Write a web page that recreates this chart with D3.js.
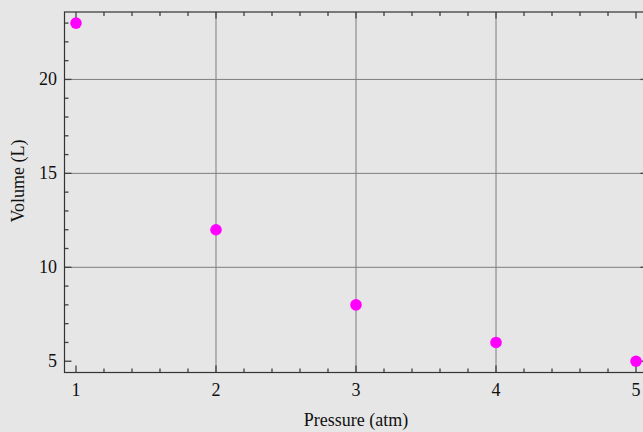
<!DOCTYPE html>
<html><head><meta charset="utf-8">
<script src="https://cdn.jsdelivr.net/npm/d3@7"></script>
<style>html,body{margin:0;padding:0;background:#e6e6e6;overflow:hidden}</style>
</head><body>
<script>
const pressure = [1, 2, 3, 4, 5];
const volume = [23, 12, 8, 6, 5];
const xTicks = [1, 2, 3, 4, 5];
const yTicks = [5, 10, 15, 20];
const xGrid = [2, 3, 4];
const yGrid = [10, 15, 20];
const xLabel = "Pressure (atm)";
const yLabel = "Volume (L)";

const W = 643, H = 432;
const L = 64.5, R = 647.5, T = 12, B = 372.5;
const svg = d3.select("body").append("svg").attr("width", W).attr("height", H);
svg.append("rect").attr("width", W).attr("height", H).attr("fill", "#e6e6e6");

const x = d3.scaleLinear().domain([0.918, 5.082]).range([L, R]);
const y = d3.scaleLinear().domain([4.4, 23.59]).range([B, T]);

const xMinor = d3.range(1, 5.0001, 0.2).map(v => +v.toFixed(1)).filter(v => !xTicks.includes(v));
const yMinor = d3.range(5, 23.5, 1).filter(v => !yTicks.includes(v));

// gridlines
svg.selectAll(".vg").data(xGrid).enter().append("line")
  .attr("x1", d => x(d)).attr("x2", d => x(d)).attr("y1", T).attr("y2", B)
  .attr("stroke", "#a3a3a3").attr("stroke-width", 1.6);
svg.selectAll(".hg").data(yGrid).enter().append("line")
  .attr("x1", L).attr("x2", R).attr("y1", d => y(d)).attr("y2", d => y(d))
  .attr("stroke", "#7f7f7f").attr("stroke-width", 1);

const tc = "#404040";
function ticks(sel, data, len, orient) {
  data.forEach(d => {
    if (orient === "bottom") sel.append("line").attr("x1", x(d)).attr("x2", x(d)).attr("y1", B).attr("y2", B - len);
    if (orient === "top") sel.append("line").attr("x1", x(d)).attr("x2", x(d)).attr("y1", T).attr("y2", T + len);
    if (orient === "left") sel.append("line").attr("y1", y(d)).attr("y2", y(d)).attr("x1", L).attr("x2", L + len);
    if (orient === "right") sel.append("line").attr("y1", y(d)).attr("y2", y(d)).attr("x1", R).attr("x2", R - len);
  });
}
const tg = svg.append("g").attr("stroke", tc).attr("stroke-width", 1.3);
ticks(tg, xTicks, 7, "bottom"); ticks(tg, xMinor, 4, "bottom");
ticks(tg, xTicks, 6.5, "top"); ticks(tg, xMinor, 4, "top");
ticks(tg, yTicks, 7, "left"); ticks(tg, yMinor, 4, "left");
ticks(tg, yTicks, 7, "right"); ticks(tg, yMinor, 4, "right");

// frame
svg.append("rect").attr("x", L).attr("y", T).attr("width", R - L).attr("height", B - T)
  .attr("fill", "none").attr("stroke", "#333").attr("stroke-width", 1.2);

// tick labels
const font = "'Liberation Serif','Times New Roman',serif";
svg.selectAll(".xl").data(xTicks).enter().append("text")
  .attr("x", d => x(d)).attr("y", 396).attr("text-anchor", "middle")
  .attr("font-family", font).attr("font-size", 18).attr("fill", "#111").text(d => d);
svg.selectAll(".yl").data(yTicks).enter().append("text")
  .attr("x", 57).attr("y", d => y(d) + 6).attr("text-anchor", "end")
  .attr("font-family", font).attr("font-size", 18).attr("fill", "#111").text(d => d);

// axis labels
svg.append("text").attr("x", 356).attr("y", 426).attr("text-anchor", "middle")
  .attr("font-family", font).attr("font-size", 18).attr("fill", "#111").text(xLabel);
svg.append("text").attr("transform", "translate(24,181) rotate(-90)").attr("text-anchor", "middle")
  .attr("font-family", font).attr("font-size", 18).attr("fill", "#111").text(yLabel);

// points
svg.selectAll(".pt").data(pressure.map((p, i) => [p, volume[i]])).enter().append("circle")
  .attr("cx", d => x(d[0])).attr("cy", d => y(d[1])).attr("r", 5.8).attr("fill", "#ff00ff");
</script>
</body></html>
